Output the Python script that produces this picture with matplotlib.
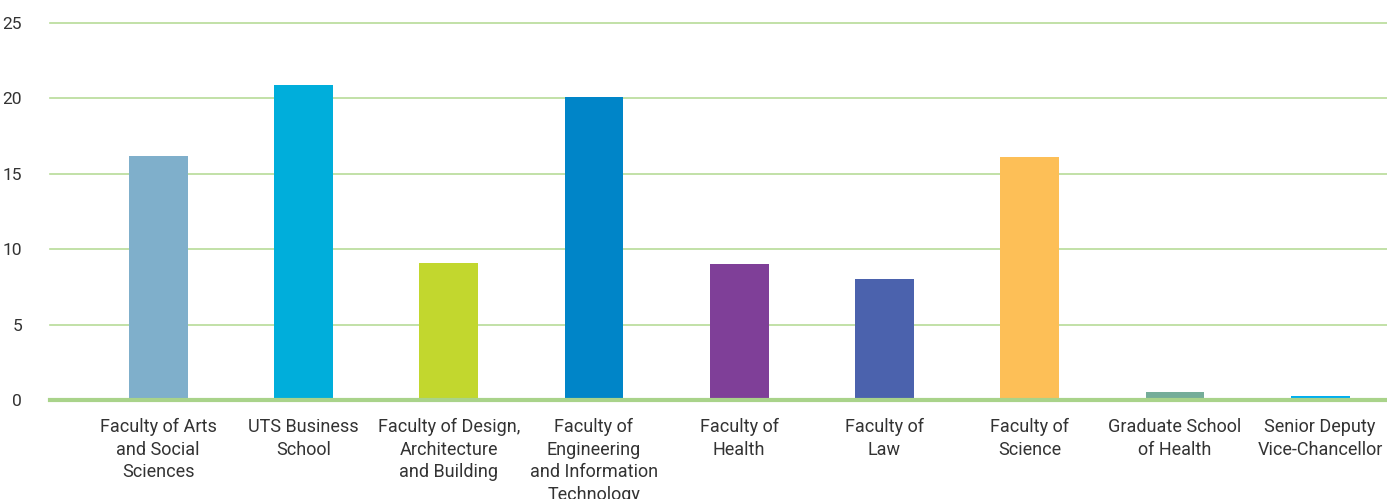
import matplotlib.pyplot as plt

plt.rcParams['font.family'] = ['Roboto', 'DejaVu Sans']

categories = ['Faculty of Arts\nand Social\nSciences',
              'UTS Business\nSchool',
              'Faculty of Design,\nArchitecture\nand Building',
              'Faculty of\nEngineering\nand Information\nTechnology',
              'Faculty of\nHealth',
              'Faculty of\nLaw',
              'Faculty of\nScience',
              'Graduate School\nof Health',
              'Senior Deputy\nVice-Chancellor']
values = [16.2, 20.9, 9.1, 20.1, 9.0, 8.0, 16.1, 0.5, 0.25]
colors = ['#7fafcb', '#00aedb', '#c2d72e', '#0085c8', '#7f3f98',
          '#4b62ad', '#fdbf57', '#75ad99', '#00aeef']
yticks = [0, 5, 10, 15, 20, 25]

fig = plt.figure(figsize=(13.87, 4.99), dpi=100)
ax = fig.add_axes([50 / 1387, 1 - 400 / 499, 1 - 50 / 1387, (400 - 23) / 499])

x = range(len(categories))
ax.bar(x, values, width=0.405, color=colors, zorder=3)

ax.set_ylim(0, 25)
ax.set_xlim(-0.745, 8.46)
ax.set_yticks(yticks)
ax.set_yticklabels([str(t) for t in yticks], fontsize=12.5, color='#333333')
for t in yticks[1:]:
    ax.axhline(t, color='#b8dc98', linewidth=1.2, zorder=0, clip_on=False)
ax.axhline(0, color='#a9d38a', linewidth=3, zorder=4, clip_on=False)

ax.set_xticks(list(x))
ax.set_xticklabels(categories, fontsize=13, color='#333333', linespacing=1.33)
ax.tick_params(axis='both', length=0)
ax.tick_params(axis='x', pad=13)
ax.tick_params(axis='y', pad=20)
for s in ax.spines.values():
    s.set_visible(False)

fig.savefig('out.png', dpi=100)
